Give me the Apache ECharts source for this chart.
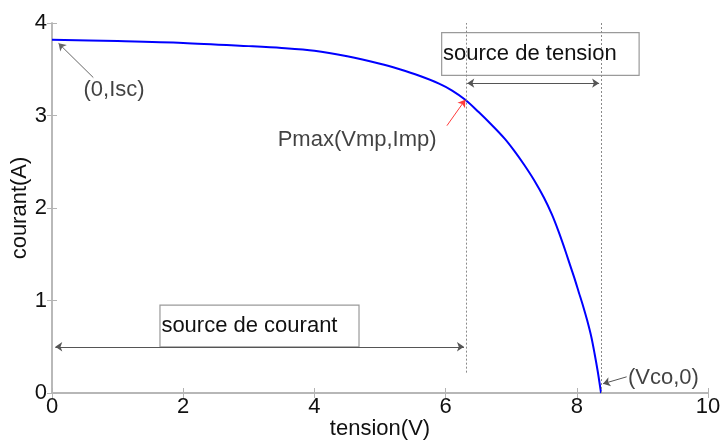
<!DOCTYPE html>
<html>
<head>
<meta charset="utf-8">
<script src="https://cdn.jsdelivr.net/npm/echarts@6/dist/echarts.min.js"></script>
<style>
  html, body { margin: 0; padding: 0; background: #fff; }
  #chart { width: 720px; height: 441px; }
</style>
</head>
<body>
<div id="chart"></div>
<script>
// courbe I(V)
const tension = [0, 1, 2, 3, 3.5, 4, 4.5, 5, 5.3, 5.6, 5.9, 6.1, 6.3, 6.5, 6.7, 6.9, 7.05, 7.2, 7.35, 7.5, 7.62, 7.72, 7.8, 7.88, 7.96, 8.03, 8.1, 8.16, 8.22, 8.27, 8.32, 8.37];
const courant = [3.82, 3.805, 3.785, 3.75, 3.73, 3.70, 3.64, 3.56, 3.50, 3.43, 3.345, 3.27, 3.17, 3.04, 2.90, 2.75, 2.615, 2.465, 2.30, 2.11, 1.93, 1.75, 1.59, 1.42, 1.25, 1.09, 0.93, 0.78, 0.61, 0.43, 0.23, 0];

const vmp = 6.31;
const imp = 3.17;
const vco = 8.38;

const textNotes = ['(0,Isc)', 'Pmax(Vmp,Imp)', '(Vco,0)'];
const noteAt = [[0.48, 3.28], [3.44, 2.74], [8.78, 0.16]];

const boxNames = ['source de tension', 'source de courant'];

const font = '"Liberation Sans", Arial, sans-serif';
const ink = '#111';
const frame = '#b4b4b4';
const arrowGray = '#555';

const chart = echarts.init(document.getElementById('chart'));

const arrow = (from, to, color, both) => [
  { coord: from, symbol: both ? 'arrow' : 'none', lineStyle: { color, width: 1, type: 'solid' }, itemStyle: { color } },
  { coord: to, symbol: 'arrow', itemStyle: { color } }
];

const dotted = (from, to) => [
  { coord: from, symbol: 'none', lineStyle: { color: '#8a8a8a', width: 1, type: [2, 2] } },
  { coord: to, symbol: 'none' }
];

const baseX = {
  type: 'value', min: 0, max: 10, interval: 2,
  axisLine: { lineStyle: { color: frame, width: 1.5 } },
  axisTick: { inside: true, length: 5, lineStyle: { color: frame } },
  splitLine: { show: false }
};
const baseY = {
  type: 'value', min: 0, max: 4, interval: 1,
  axisLine: { lineStyle: { color: frame, width: 1.5 } },
  axisTick: { inside: true, length: 5, lineStyle: { color: frame } },
  splitLine: { show: false }
};

chart.setOption({
  animation: false,
  textStyle: { fontFamily: font },
  grid: { left: 52, right: 12, top: 23, bottom: 48, outerBoundsMode: 'none' },
  xAxis: [
    {
      ...baseX,
      position: 'bottom',
      name: 'tension(V)',
      nameLocation: 'middle',
      nameGap: 25,
      nameMoveOverlap: false,
      nameTextStyle: { fontSize: 22, color: ink, fontFamily: font },
      axisLabel: { fontSize: 22, color: ink, margin: 3, fontFamily: font }
    },
    { ...baseX, position: 'top', axisLabel: { show: false } }
  ],
  yAxis: [
    {
      ...baseY,
      position: 'left',
      name: 'courant(A)',
      nameLocation: 'middle',
      nameGap: 21,
      nameMoveOverlap: false,
      nameTextStyle: { fontSize: 22, color: ink, fontFamily: font },
      axisLabel: { fontSize: 22, color: ink, margin: 5, fontFamily: font }
    },
    { ...baseY, position: 'right', axisLabel: { show: false } }
  ],
  series: [
    {
      name: 'I(V)',
      type: 'line',
      data: tension.map((v, i) => [v, courant[i]]),
      showSymbol: false,
      smooth: 0.3,
      lineStyle: { color: '#0000ff', width: 2 },
      itemStyle: { color: '#0000ff' },
      z: 3,
      markLine: {
        silent: true,
        symbolSize: 7,
        label: { show: false },
        data: [
          dotted([vmp, 0.22], [vmp, 4]),
          dotted([vco, 0], [vco, 4]),
          arrow([0.05, 0.5], [6.28, 0.5], arrowGray, true),
          arrow([6.33, 3.35], [8.34, 3.35], arrowGray, true),
          arrow([0.63, 3.41], [0.1, 3.78], '#666', false),
          arrow([6.02, 2.89], [vmp - 0.01, imp], '#ff3b3b', false),
          arrow([8.76, 0.175], [8.4, 0.1], arrowGray, false)
        ]
      },
      markArea: {
        silent: true,
        itemStyle: { color: 'rgba(255,255,255,0)', borderColor: '#9a9a9a', borderWidth: 1.2 },
        label: { show: true, position: 'insideLeft', distance: 2, fontSize: 22, color: ink, fontFamily: font },
        data: [
          [{ name: boxNames[0], coord: [5.94, 3.895] }, { coord: [8.95, 3.434] }],
          [{ name: boxNames[1], coord: [1.646, 0.95] }, { coord: [4.68, 0.5] }]
        ]
      }
    },
    {
      name: 'notes',
      type: 'scatter',
      symbolSize: 0,
      silent: true,
      data: noteAt.map((p, i) => ({ value: p, name: textNotes[i] })),
      label: {
        show: true,
        position: [0, 0],
        align: 'left',
        verticalAlign: 'middle',
        formatter: (p) => p.name,
        fontSize: 22,
        color: ink,
        fontFamily: font
      }
    }
  ]
});
</script>
</body>
</html>
